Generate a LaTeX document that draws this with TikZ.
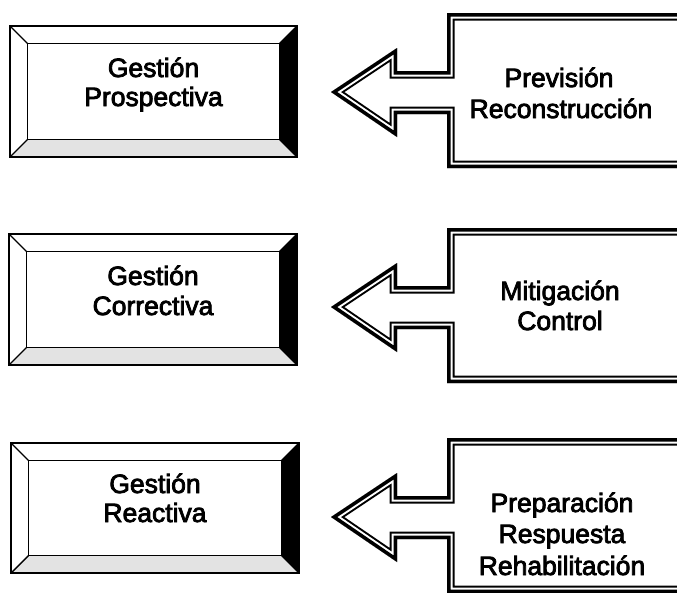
\documentclass[tikz,border=0pt]{standalone}
\usepackage{fontspec}
\setmainfont{Liberation Sans}
\newfontfamily\lblfont[FakeBold=3]{Liberation Sans}
\tikzset{
  outerline/.style={line width=2.6pt, line join=miter},
  bevline/.style={line width=1.4pt, line join=miter},
  lbl/.style={font=\lblfont\fontsize{26.5}{30}\selectfont, anchor=base, inner sep=0pt},
  stipple/.style={fill=black!11},
}
% #1 x1, #2 y1, #3 x2, #4 y2, #5 bevel depth
\newcommand\bevelbox[5]{%
  \fill[white] (#1,#2) rectangle (#3,#4);
  \fill[white] (#1,#2) -- (#3,#2) -- ({#3-#5},{#2+#5}) -- ({#1+#5},{#2+#5}) -- cycle;
  \fill[black] (#3,#2) -- (#3,#4) -- ({#3-#5},{#4-#5}) -- ({#3-#5},{#2+#5}) -- cycle;
  \fill[stipple] (#1,#4) -- (#3,#4) -- ({#3-#5},{#4-#5}) -- ({#1+#5},{#4-#5}) -- cycle;
  \draw[bevline] (#1,#2) -- ({#1+#5},{#2+#5});
  \draw[bevline] (#3,#2) -- ({#3-#5},{#2+#5});
  \draw[bevline] (#1,#4) -- ({#1+#5},{#4-#5});
  \draw[bevline] (#3,#4) -- ({#3-#5},{#4-#5});
  \draw[bevline] ({#1+#5},{#2+#5}) rectangle ({#3-#5},{#4-#5});
  \draw[outerline] (#1,#2) rectangle (#3,#4);
}
% #1 top y of the arrow shape
\newcommand\bigarrow[1]{%
  \begin{scope}
    \clip (331,{#1+79}) -- (397,{#1+35}) -- (397,{#1+58}) -- (447,{#1+58}) -- (447,#1)
      -- (720,#1) -- (720,{#1+155}) -- (447,{#1+155}) -- (447,{#1+101}) -- (397,{#1+101})
      -- (397,{#1+124}) -- cycle;
    \foreach \w/\c in {15/black,11/white,7/black}
      \draw[line width=\w pt, color=\c, line join=miter, miter limit=20]
        (331,{#1+79}) -- (397,{#1+35}) -- (397,{#1+58}) -- (447,{#1+58}) -- (447,#1)
        -- (720,#1) -- (720,{#1+155}) -- (447,{#1+155}) -- (447,{#1+101}) -- (397,{#1+101})
        -- (397,{#1+124}) -- cycle;
  \end{scope}}
\begin{document}
\begin{tikzpicture}[x=1pt,y=-1pt]
  \useasboundingbox (0,0) rectangle (677,592);
  \fill[white] (0,0) rectangle (677,592);
  \clip (0,0) rectangle (677,592);

  \bevelbox{10}{26}{297}{157}{17.5}
  \bevelbox{9}{234}{297}{365}{17.5}
  \bevelbox{11}{443}{299}{573}{17.5}

  \bigarrow{13}
  \bigarrow{228}
  \bigarrow{438}

  \node[lbl] (g1a) at (153.5,77) {Gestión};
  \node[lbl] (g1b) at (153.5,106) {Prospectiva};
  \node[lbl] (g2a) at (153,285) {Gestión};
  \node[lbl] (g2b) at (153,315) {Correctiva};
  \node[lbl] (g3a) at (155,493) {Gestión};
  \node[lbl] (g3b) at (155,522) {Reactiva};

  \node[lbl] (r1a) at (559,87) {Previsión};
  \node[lbl] (r1b) at (561,118) {Reconstrucción};
  \node[lbl] (r2a) at (560,300) {Mitigación};
  \node[lbl] (r2b) at (560,330) {Control};
  \node[lbl] (r3a) at (562,512) {Preparación};
  \node[lbl] (r3b) at (562,543) {Respuesta};
  \node[lbl] (r3c) at (562,575) {Rehabilitación};
\end{tikzpicture}
\end{document}
